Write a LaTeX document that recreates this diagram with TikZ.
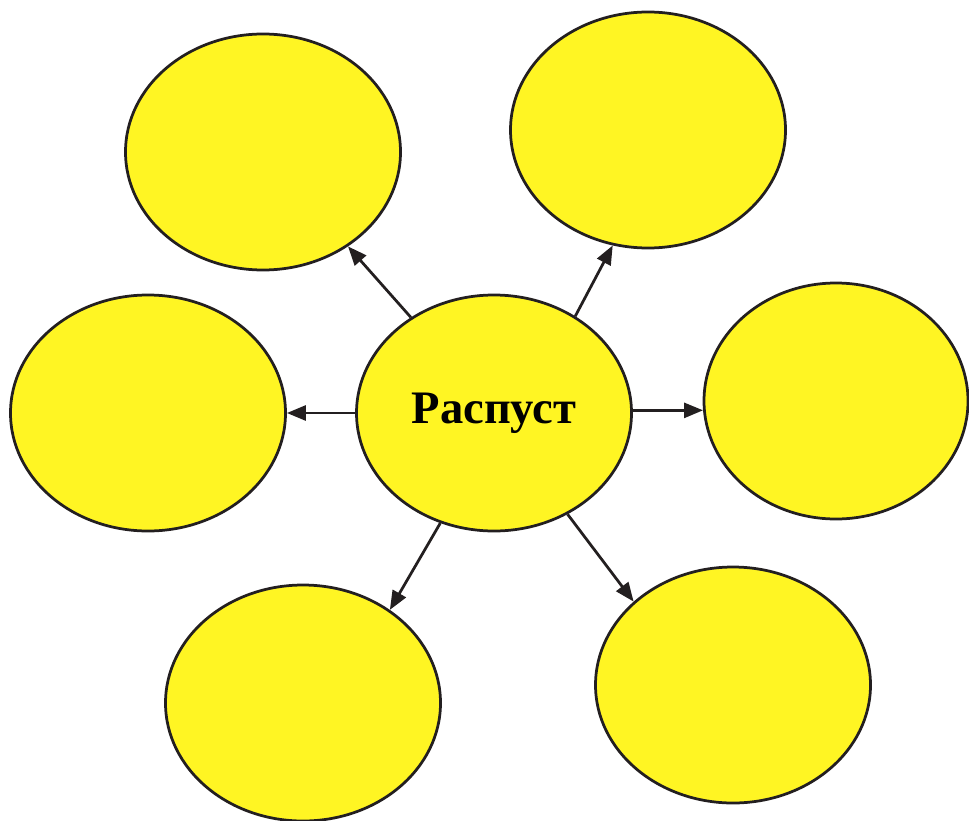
\documentclass[tikz,border=0pt]{standalone}
\usepackage{fontspec}
\setmainfont{Liberation Serif}
\usetikzlibrary{shapes.geometric, arrows.meta}
\definecolor{bubblefill}{HTML}{FFF523}
\definecolor{inkline}{HTML}{231F20}

\begin{document}
\begin{tikzpicture}[thick,bubble/.style={ellipse,draw=inkline,fill=bubblefill,line width=0.055cm,inner sep=0pt,minimum width=5.5cm,minimum height=4.72cm},link/.style={draw=inkline,line width=0.055cm,-{Triangle[length=0.38cm,width=0.3cm]}}]
        \useasboundingbox (0,0) rectangle (19.38,-16.4);
        \begin{scope}
        \clip (0,0) rectangle (19.38,-16.4);
        \node [bubble] (c) at (9.88,-8.26) {\fontsize{26.5}{30}\selectfont\bfseries Распуст};
        \node [bubble] (tl) at (5.26,-3.04) {};
        \node [bubble] (tr) at (12.96,-2.6) {};
        \node [bubble] (l) at (2.96,-8.26) {};
        \node [bubble, minimum width=5.28cm] (r) at (16.72,-8.02) {};
        \node [bubble] (bl) at (6.06,-14.06) {};
        \node [bubble] (br) at (14.66,-13.7) {};
        \end{scope}
        \draw [link] (c.131) -- (tl.312);
        \draw [link] (c.50) -- (tr.253);
        \draw [link] (c.180) -- (l.0);
        \draw [link] (c.1) -- (r.184);
        \draw [link] (c.244) -- (bl.47);
        \draw [link] (c.306) -- (br.140);
    \end{tikzpicture}
\end{document}
